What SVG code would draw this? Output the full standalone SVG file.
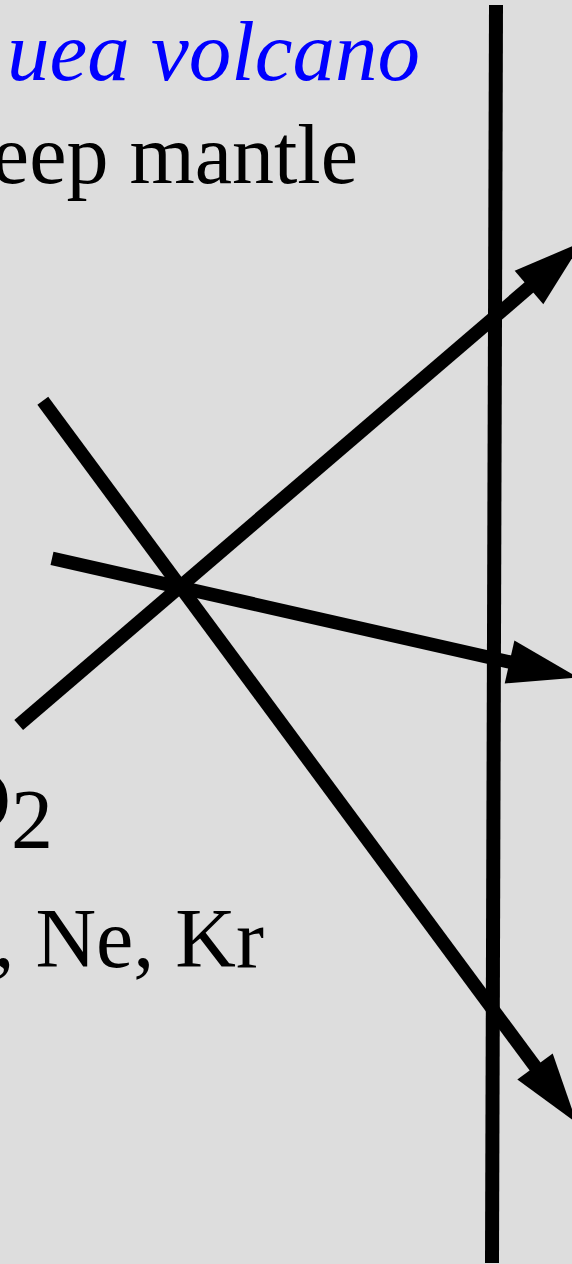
<svg xmlns="http://www.w3.org/2000/svg" width="572" height="1264" viewBox="0 0 572 1264">
  <style>
    .lbl { font-family: "Liberation Serif", "Times New Roman", serif; font-size: 84px; fill: #000000; }
    .blue { fill: #0000ff; font-style: italic; font-size: 85px; }
    .conn { stroke: #000000; stroke-width: 13.5; fill: none; stroke-linecap: butt; }
    .axis { stroke: #000000; stroke-width: 14; fill: none; }
  </style>
  <defs>
    <marker id="arrow" markerUnits="userSpaceOnUse" orient="auto" refX="0" refY="0" markerWidth="100" markerHeight="100" overflow="visible">
      <path d="M-2,-22 L68,0 L-2,22 Z" fill="#000000"/>
    </marker>
  </defs>
  <rect x="0" y="0" width="572" height="1264" fill="#dddddd"/>

  <g id="volcano-label">
    <text class="lbl blue" x="420" y="80" text-anchor="end">uea volcano</text>
  </g>
  <g id="mantle-label">
    <text class="lbl" x="358" y="183" text-anchor="end">eep mantle</text>
  </g>
  <g id="o2-label">
    <text class="lbl" x="11" y="829" text-anchor="end">O</text>
    <text class="lbl" x="11" y="848" font-size="70">2</text>
  </g>
  <g id="gases-label">
    <text class="lbl" x="264" y="967" text-anchor="end">, Ne, Kr</text>
  </g>

  <g id="connectors">
    <line class="axis" x1="496" y1="5" x2="492" y2="1263"/>
    <line class="conn" x1="18.7" y1="725" x2="530.5" y2="286.2" marker-end="url(#arrow)"/>
    <line class="conn" x1="52" y1="558.3" x2="511.5" y2="662.4" marker-end="url(#arrow)"/>
    <line class="conn" x1="42.8" y1="400.8" x2="536.2" y2="1068.1" marker-end="url(#arrow)"/>
  </g>
</svg>
